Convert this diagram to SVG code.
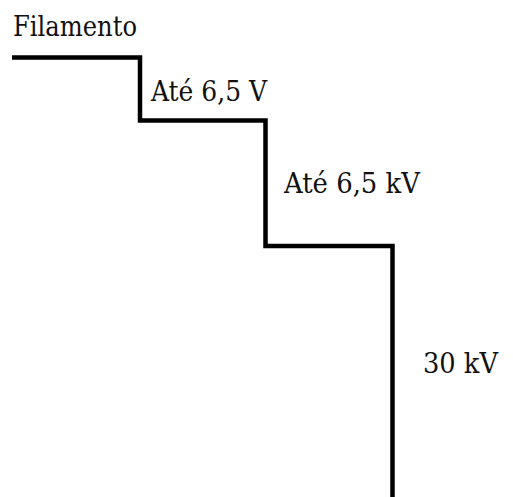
<svg xmlns="http://www.w3.org/2000/svg" width="513" height="497" viewBox="0 0 513 497">
  <style>
    text { font-family: 'DejaVu Serif Condensed', 'DejaVu Serif', serif; font-stretch: condensed; font-size: 28px; fill: #111; }
    .step { fill: none; stroke: #000; stroke-width: 4.5; stroke-linejoin: miter; stroke-linecap: butt; }
  </style>
  <rect width="513" height="497" fill="#fff"/>
  <g id="connectors">
    <path class="step" d="M12,57.5 H140 V120.5 H265.5 V246 H392.5 V497"/>
  </g>
  <g id="filamento"><text x="13" y="36" textLength="124" lengthAdjust="spacingAndGlyphs">Filamento</text></g>
  <g id="v1"><text x="151" y="101" textLength="116" lengthAdjust="spacingAndGlyphs">Até 6,5 V</text></g>
  <g id="v2"><text x="284" y="193" textLength="136" lengthAdjust="spacingAndGlyphs">Até 6,5 kV</text></g>
  <g id="v3"><text x="423" y="373" textLength="75" lengthAdjust="spacingAndGlyphs">30 kV</text></g>
</svg>
